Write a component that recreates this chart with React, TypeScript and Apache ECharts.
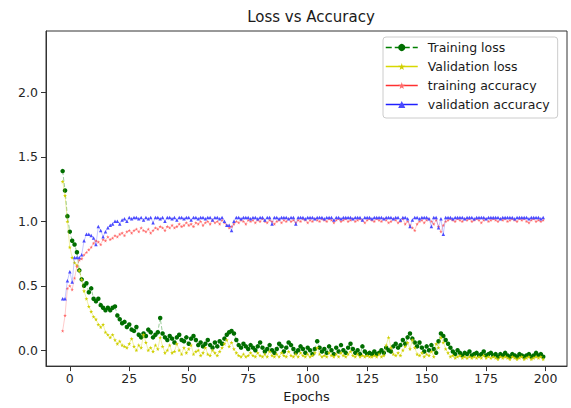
import React, { useEffect, useRef } from "react";
import * as echarts from "echarts";

// epochs run from START_EPOCH, one value per epoch
const START_EPOCH = -3;

const trainingLoss = [
  1.39, 1.24, 1.04, 0.92, 0.85, 0.82, 0.76, 0.62, 0.55, 0.50,
  0.52, 0.45, 0.48, 0.40, 0.38, 0.40, 0.35, 0.33, 0.31, 0.33,
  0.31, 0.33, 0.34, 0.27, 0.24, 0.21, 0.22, 0.18, 0.20, 0.16,
  0.15, 0.18, 0.12, 0.10, 0.13, 0.11, 0.16, 0.14, 0.10, 0.12,
  0.14, 0.25, 0.13, 0.10, 0.08, 0.11, 0.09, 0.06, 0.10, 0.12,
  0.08, 0.07, 0.10, 0.05, 0.09, 0.11, 0.08, 0.04, 0.06, 0.03,
  0.05, 0.08, 0.04, 0.02, 0.06, 0.03, 0.07, 0.05, 0.09, 0.12,
  0.14, 0.15, 0.13, 0.08, 0.04, 0.02, 0.05, 0.03, 0.01, 0.04,
  0.02, 0.00, 0.03, 0.06, 0.02, -0.01, 0.01, 0.04, 0.00, -0.02,
  0.01, 0.05, 0.03, -0.01, 0.02, 0.06, 0.04, 0.01, -0.02, 0.00,
  0.03, 0.01, -0.02, 0.02, 0.00, -0.03, 0.01, 0.07, 0.02, -0.01,
  0.01, -0.02, 0.03, 0.00, -0.03, 0.02, -0.01, 0.04, 0.00, -0.02,
  0.02, 0.05, 0.01, -0.02, 0.00, -0.03, 0.03, -0.01, -0.03, -0.02,
  -0.03, -0.01, -0.03, -0.02, 0.00, -0.02, 0.02, 0.00, -0.01, 0.03,
  0.05, 0.02, 0.04, 0.08, 0.05, 0.10, 0.13, 0.09, 0.06, 0.03,
  0.06, 0.02, -0.01, 0.03, 0.00, 0.04, 0.01, -0.02, 0.07, 0.13,
  0.11, 0.08, 0.05, 0.02, -0.01, -0.03, 0.00, -0.02, -0.04, -0.02,
  -0.03, -0.01, -0.04, -0.03, -0.02, -0.04, -0.03, -0.01, -0.04, -0.03,
  -0.02, -0.04, -0.03, -0.05, -0.03, -0.04, -0.02, -0.04, -0.05, -0.03,
  -0.04, -0.05, -0.03, -0.04, -0.05, -0.04, -0.03, -0.05, -0.04, -0.02,
  -0.04, -0.03, -0.05,
];

const validationLoss = [
  1.31, 1.20, 1.00, 0.80, 0.72, 0.68, 0.66, 0.62, 0.55, 0.46,
  0.40, 0.34, 0.30, 0.26, 0.24, 0.20, 0.18, 0.20, 0.14, 0.12,
  0.10, 0.12, 0.08, 0.05, 0.07, 0.04, 0.03, 0.02, 0.05, 0.09,
  0.03, 0.00, 0.04, 0.02, 0.12, 0.06, 0.00, 0.02, -0.01, 0.04,
  0.01, 0.10, 0.03, -0.02, 0.00, 0.04, -0.02, -0.01, 0.05, 0.00,
  -0.03, 0.02, -0.02, 0.01, 0.04, -0.03, -0.01, 0.00, -0.04, -0.02,
  0.02, -0.03, -0.04, 0.00, -0.02, -0.04, -0.01, 0.02, 0.05, 0.08,
  0.03, 0.06, 0.01, -0.02, -0.04, -0.05, -0.03, -0.05, -0.04, -0.02,
  -0.04, -0.05, -0.02, -0.04, -0.05, -0.03, -0.05, -0.01, -0.04, -0.05,
  -0.03, -0.05, -0.02, -0.04, -0.05, -0.01, -0.04, -0.05, -0.03, -0.05,
  -0.02, -0.04, -0.05, -0.03, -0.05, -0.04, -0.02, 0.02, -0.03, -0.05,
  -0.04, -0.05, -0.02, -0.04, -0.05, -0.03, -0.05, -0.02, -0.04, -0.05,
  -0.03, -0.01, -0.04, -0.05, -0.03, -0.05, -0.04, -0.05, -0.04, -0.05,
  -0.05, -0.04, -0.05, -0.03, -0.05, -0.04, 0.04, 0.10, 0.02, -0.03,
  -0.04, -0.02, -0.04, 0.00, 0.03, 0.06, 0.01, 0.08, 0.02, -0.03,
  -0.04, -0.02, -0.05, -0.03, -0.04, -0.01, -0.05, 0.05, 0.02, 0.10,
  0.06, 0.01, -0.02, -0.05, -0.04, -0.06, -0.05, -0.04, -0.06, -0.05,
  -0.06, -0.05, -0.06, -0.05, -0.06, -0.05, -0.06, -0.04, -0.06, -0.05,
  -0.06, -0.05, -0.06, -0.07, -0.05, -0.06, -0.05, -0.06, -0.07, -0.05,
  -0.06, -0.07, -0.06, -0.05, -0.07, -0.06, -0.05, -0.07, -0.06, -0.05,
  -0.06, -0.05, -0.07,
];

const trainingAccuracy = [
  0.15, 0.27, 0.48, 0.50, 0.47, 0.56, 0.65, 0.70, 0.71, 0.74,
  0.76, 0.78, 0.80, 0.83, 0.85, 0.84, 0.82, 0.86, 0.85, 0.88,
  0.86, 0.87, 0.89, 0.88, 0.90, 0.91, 0.89, 0.92, 0.93, 0.91,
  0.93, 0.94, 0.92, 0.95, 0.93, 0.92, 0.94, 0.91, 0.93, 0.95,
  0.94, 0.96, 0.95, 0.93, 0.96, 0.95, 0.97, 0.95, 0.96, 0.98,
  0.96, 0.97, 0.99, 0.97, 0.98, 0.96, 0.99, 0.98, 1.00, 0.97,
  0.99, 1.00, 0.98, 1.01, 0.99, 1.00, 0.98, 1.01, 0.99, 0.97,
  0.95, 0.96, 0.98, 1.00, 0.99, 1.01, 1.00, 0.98, 1.01, 1.00,
  1.01, 0.99, 1.01, 1.00, 1.02, 1.00, 0.99, 1.01, 1.00, 0.98,
  1.00, 1.01, 0.99, 1.01, 1.00, 1.02, 1.00, 1.01, 0.99, 1.01,
  1.00, 1.02, 1.01, 0.99, 1.01, 1.00, 1.02, 1.01, 1.00, 1.02,
  1.01, 1.00, 1.02, 1.01, 0.99, 1.01, 1.02, 1.00, 1.01, 1.02,
  1.00, 1.01, 1.02, 1.00, 1.01, 1.02, 1.01, 0.99, 1.01, 1.02,
  1.01, 1.00, 1.02, 1.01, 1.00, 1.02, 1.01, 0.99, 1.00, 1.02,
  1.01, 0.99, 1.00, 1.02, 0.98, 1.00, 0.97, 0.95, 0.93, 0.98,
  1.00, 1.01, 0.99, 1.01, 1.02, 1.00, 0.98, 1.01, 0.96, 0.92,
  0.97, 1.00, 1.01, 1.02, 1.01, 1.00, 1.02, 1.01, 1.00, 1.02,
  1.01, 1.02, 1.00, 1.01, 1.02, 1.01, 0.99, 1.01, 1.02, 1.00,
  1.01, 1.02, 1.01, 1.00, 1.02, 1.01, 1.02, 1.00, 1.01, 1.02,
  1.01, 1.00, 1.02, 1.01, 1.02, 1.00, 0.99, 1.01, 1.02, 1.00,
  1.01, 1.00, 1.01,
];

const validationAccuracy = [
  0.40, 0.40, 0.54, 0.61, 0.53, 0.72, 0.72, 0.72, 0.74, 0.85,
  0.90, 0.90, 0.89, 0.87, 0.82, 0.96, 0.93, 0.88, 0.92, 0.95,
  0.97, 0.98, 1.00, 1.00, 0.98, 1.01, 1.02, 1.00, 1.03, 1.02,
  1.03, 1.03, 1.02, 1.03, 1.01, 1.03, 1.02, 1.03, 0.99, 1.03,
  1.03, 1.02, 1.03, 1.00, 1.03, 1.03, 1.02, 1.03, 1.01, 1.03,
  1.03, 1.02, 1.03, 1.03, 1.01, 1.03, 1.03, 1.02, 1.03, 1.03,
  1.02, 1.03, 1.03, 1.01, 1.03, 1.03, 1.02, 1.03, 1.00, 0.97,
  0.97, 0.93, 1.00, 1.03, 1.03, 1.02, 1.03, 1.03, 1.03, 1.02,
  1.03, 1.03, 1.02, 1.03, 1.03, 1.01, 1.03, 1.03, 0.98, 1.03,
  1.03, 1.02, 1.03, 1.03, 1.03, 1.02, 1.03, 1.03, 0.98, 1.03,
  1.03, 1.03, 1.02, 1.03, 1.03, 1.03, 1.02, 1.03, 1.03, 1.03,
  1.02, 1.03, 1.03, 1.03, 1.01, 1.03, 1.03, 1.02, 1.03, 1.03,
  1.03, 1.03, 1.02, 1.03, 1.03, 1.03, 1.01, 1.03, 1.03, 1.03,
  1.02, 1.03, 1.03, 1.03, 1.03, 1.02, 1.03, 1.03, 1.03, 1.02,
  1.03, 1.03, 1.01, 1.03, 1.03, 1.02, 0.96, 1.01, 1.03, 1.03,
  1.02, 1.03, 1.03, 1.03, 1.02, 0.96, 1.03, 1.03, 0.95, 1.02,
  0.90, 1.03, 1.03, 1.03, 1.02, 1.03, 1.03, 1.03, 1.03, 1.02,
  1.03, 1.03, 1.03, 1.02, 1.03, 1.03, 1.03, 1.03, 1.02, 1.03,
  1.03, 1.03, 1.03, 1.03, 1.02, 1.03, 1.03, 1.03, 1.03, 1.03,
  1.02, 1.03, 1.03, 1.03, 1.03, 1.03, 1.02, 1.03, 1.03, 1.03,
  1.03, 1.02, 1.03,
];

const xTicks = [0, 25, 50, 75, 100, 125, 150, 175, 200];
const yTicks = [0, 0.5, 1.0, 1.5, 2.0];

const STAR =
  "path://M50,0 L61,35 L98,35 L68,57 L79,91 L50,70 L21,91 L32,57 L2,35 L39,35 Z";

const FONT = "DejaVu Sans";

function toPairs(values: number[]) {
  return values.map((v, i) => [START_EPOCH + i, v]);
}

export default function App() {
  const ref = useRef<HTMLDivElement>(null);

  useEffect(() => {
    if (!ref.current) return;
    const chart = echarts.init(ref.current, undefined, { renderer: "svg" });

    const mkSeries = (
      name: string,
      values: number[],
      color: string,
      markerColor: string,
      symbol: string,
      symbolSize: number,
      lineType: string,
      lineOpacity: number,
      z: number
    ) => ({
      name,
      type: "line",
      data: toPairs(values),
      symbol,
      symbolSize,
      showSymbol: true,
      itemStyle: { color: markerColor },
      lineStyle: { color, width: 1, type: lineType, opacity: lineOpacity },
      emphasis: { disabled: true },
      z,
    });

    chart.setOption({
      animation: false,
      backgroundColor: "#ffffff",
      title: {
        text: "Loss vs Accuracy",
        left: 306,
        top: 4,
        textAlign: "center",
        textStyle: {
          fontFamily: FONT,
          fontSize: 15,
          fontWeight: "normal",
          color: "#1a1a1a",
        },
      },
      legend: {
        orient: "vertical",
        left: 383,
        top: 37,
        padding: [4, 8, 7, 2],
        itemWidth: 32,
        itemHeight: 9,
        itemGap: 6,
        borderColor: "#cccccc",
        borderWidth: 1,
        borderRadius: 3,
        backgroundColor: "rgba(255,255,255,0.85)",
        lineStyle: { opacity: 1, width: 1.5 },
        itemStyle: { opacity: 1 },
        textStyle: {
          fontFamily: FONT,
          fontSize: 12.5,
          color: "#1a1a1a",
          padding: [0, 0, 0, 5],
        },
        data: [
          "Training loss",
          "Validation loss",
          "training accuracy",
          "validation accuracy",
        ],
      },
      grid: {
        left: 46,
        right: 4,
        top: 31,
        bottom: 39,
        show: true,
        borderColor: "#333333",
        borderWidth: 1,
        backgroundColor: "transparent",
      },
      xAxis: {
        type: "value",
        min: -10,
        max: 209,
        name: "Epochs",
        nameLocation: "middle",
        nameGap: 22,
        nameTextStyle: { fontFamily: FONT, fontSize: 13, color: "#1a1a1a" },
        axisLine: { show: true, onZero: false, lineStyle: { color: "#333333", width: 1 } },
        axisTick: {
          show: true,
          length: 5,
          customValues: xTicks,
          lineStyle: { color: "#333333" },
        },
        axisLabel: {
          customValues: xTicks,
          margin: 6,
          fontFamily: FONT,
          fontSize: 12.5,
          color: "#262626",
        },
        splitLine: { show: false },
      },
      yAxis: {
        type: "value",
        min: -0.123,
        max: 2.477,
        axisLine: { show: true, onZero: false, lineStyle: { color: "#333333", width: 1 } },
        axisTick: {
          show: true,
          length: 5,
          customValues: yTicks,
          lineStyle: { color: "#333333" },
        },
        axisLabel: {
          customValues: yTicks,
          margin: 8,
          fontFamily: FONT,
          fontSize: 12.5,
          color: "#262626",
          formatter: (v: number) => v.toFixed(1),
        },
        splitLine: { show: false },
      },
      series: [
        mkSeries("Training loss", trainingLoss, "#008000", "#006e00", "circle", 4.5, "dashed", 0.4, 2),
        mkSeries("Validation loss", validationLoss, "#d8d800", "#cfcf00", STAR, 4, "solid", 0.35, 3),
        mkSeries("training accuracy", trainingAccuracy, "#ff3030", "#ff6a6a", STAR, 3.5, "solid", 0.25, 4),
        mkSeries("validation accuracy", validationAccuracy, "#2020ff", "#4a4aff", "triangle", 3.5, "solid", 0.25, 5),
      ],
    });

    return () => chart.dispose();
  }, []);

  return (
    <div
      ref={ref}
      style={{ position: "absolute", left: 0, top: 0, width: 571, height: 408, background: "#fff" }}
    />
  );
}
